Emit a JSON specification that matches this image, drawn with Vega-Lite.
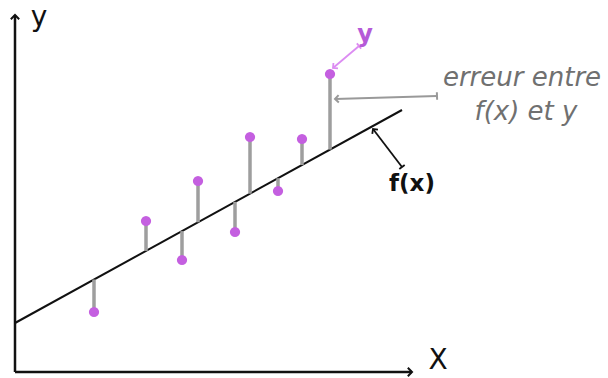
{
  "$schema": "https://vega.github.io/schema/vega-lite/v6.json",
  "width": 608,
  "height": 378,
  "autosize": {"type": "none"},
  "padding": 0,
  "background": "white",
  "config": {"view": {"stroke": null}},
  "datasets": {
    "points": [
      {"x": 7.9, "y": 6.0, "fx": 9.25},
      {"x": 13.1, "y": 15.1, "fx": 12.11},
      {"x": 16.7, "y": 11.2, "fx": 14.09},
      {"x": 18.3, "y": 19.1, "fx": 14.97},
      {"x": 22.0, "y": 14.0, "fx": 17.01},
      {"x": 23.5, "y": 23.5, "fx": 17.83},
      {"x": 26.3, "y": 18.1, "fx": 19.38},
      {"x": 28.7, "y": 23.3, "fx": 20.70},
      {"x": 31.5, "y": 29.8, "fx": 22.24}
    ],
    "segments": [
      {"name": "axisY", "x": 0, "y": 0, "x2": 0, "y2": 35.7},
      {"name": "axisX", "x": 0, "y": 0, "x2": 39.7, "y2": 0},
      {"name": "fit", "x": 0, "y": 4.9, "x2": 38.7, "y2": 26.2},
      {"name": "toY", "x": 34.4, "y": 32.6, "x2": 31.8, "y2": 30.4},
      {"name": "toErr", "x": 42.2, "y": 27.6, "x2": 32.0, "y2": 27.3},
      {"name": "toF", "x": 38.7, "y": 20.5, "x2": 35.8, "y2": 24.3}
    ],
    "labels": [
      {"name": "yAxis", "x": 2.4, "y": 34.6, "text": "y"},
      {"name": "xAxis", "x": 42.3, "y": 0.3, "text": "X"},
      {"name": "y", "x": 35.0, "y": 33.7, "text": "y"},
      {"name": "err1", "x": 50.7, "y": 29.4, "text": "erreur entre"},
      {"name": "err2", "x": 51.1, "y": 26.0, "text": "f(x) et y"},
      {"name": "f", "x": 39.7, "y": 18.8, "text": "f(x)"}
    ]
  },
  "encoding": {
    "x": {"field": "x", "type": "quantitative", "scale": {"domain": [-1.5, 59.3], "nice": false, "zero": false}, "axis": null},
    "y": {"field": "y", "type": "quantitative", "scale": {"domain": [-0.6, 37.2], "nice": false, "zero": false}, "axis": null}
  },
  "layer": [
    {
      "data": {"name": "segments"},
      "transform": [{"filter": "datum.name === 'axisX' || datum.name === 'axisY'"}],
      "mark": {"type": "rule", "color": "#111", "strokeWidth": 2.5},
      "encoding": {"x2": {"field": "x2"}, "y2": {"field": "y2"}}
    },
    {
      "data": {"name": "segments"},
      "transform": [{"filter": "datum.name === 'axisY'"}],
      "mark": {"type": "point", "shape": "M -1 -1 L 0 0 L -1 1", "filled": false, "stroke": "#111", "strokeWidth": 2, "size": 70, "angle": 270, "opacity": 1},
      "encoding": {"x": {"field": "x2", "type": "quantitative"}, "y": {"field": "y2", "type": "quantitative"}}
    },
    {
      "data": {"name": "segments"},
      "transform": [{"filter": "datum.name === 'axisX'"}],
      "mark": {"type": "point", "shape": "M -1 -1 L 0 0 L -1 1", "filled": false, "stroke": "#111", "strokeWidth": 2, "size": 70, "angle": 0, "opacity": 1},
      "encoding": {"x": {"field": "x2", "type": "quantitative"}, "y": {"field": "y2", "type": "quantitative"}}
    },
    {
      "data": {"name": "segments"},
      "transform": [{"filter": "datum.name === 'fit'"}],
      "mark": {"type": "rule", "color": "#111", "strokeWidth": 2},
      "encoding": {"x2": {"field": "x2"}, "y2": {"field": "y2"}}
    },
    {
      "data": {"name": "points"},
      "mark": {"type": "rule", "color": "#9e9e9e", "strokeWidth": 3.5},
      "encoding": {"y2": {"field": "fx"}}
    },
    {
      "data": {"name": "points"},
      "mark": {"type": "point", "shape": "circle", "filled": true, "color": "#c45fe0", "size": 105, "opacity": 1},
      "encoding": {}
    },
    {
      "data": {"name": "segments"},
      "transform": [{"filter": "datum.name === 'toY'"}],
      "layer": [
        {"mark": {"type": "rule", "color": "#dc8cf2", "strokeWidth": 1.8}, "encoding": {"x2": {"field": "x2"}, "y2": {"field": "y2"}}},
        {"mark": {"type": "point", "shape": "M -1 -1 L 0 0 L -1 1", "filled": false, "stroke": "#dc8cf2", "strokeWidth": 1.8, "size": 50, "angle": 140, "opacity": 1},
         "encoding": {"x": {"field": "x2", "type": "quantitative"}, "y": {"field": "y2", "type": "quantitative"}}},
        {"mark": {"type": "point", "shape": "M 0 -1 L 0 1", "filled": false, "stroke": "#dc8cf2", "strokeWidth": 1.8, "size": 45, "angle": 140, "opacity": 1}, "encoding": {}}
      ]
    },
    {
      "data": {"name": "segments"},
      "transform": [{"filter": "datum.name === 'toErr'"}],
      "layer": [
        {"mark": {"type": "rule", "color": "#999", "strokeWidth": 2}, "encoding": {"x2": {"field": "x2"}, "y2": {"field": "y2"}}},
        {"mark": {"type": "point", "shape": "M -1 -1 L 0 0 L -1 1", "filled": false, "stroke": "#999", "strokeWidth": 2, "size": 55, "angle": 178, "opacity": 1},
         "encoding": {"x": {"field": "x2", "type": "quantitative"}, "y": {"field": "y2", "type": "quantitative"}}},
        {"mark": {"type": "point", "shape": "M 0 -1 L 0 1", "filled": false, "stroke": "#999", "strokeWidth": 2, "size": 55, "angle": 178, "opacity": 1}, "encoding": {}}
      ]
    },
    {
      "data": {"name": "segments"},
      "transform": [{"filter": "datum.name === 'toF'"}],
      "layer": [
        {"mark": {"type": "rule", "color": "#111", "strokeWidth": 1.8}, "encoding": {"x2": {"field": "x2"}, "y2": {"field": "y2"}}},
        {"mark": {"type": "point", "shape": "M -1 -1 L 0 0 L -1 1", "filled": false, "stroke": "#111", "strokeWidth": 1.8, "size": 50, "angle": 233, "opacity": 1},
         "encoding": {"x": {"field": "x2", "type": "quantitative"}, "y": {"field": "y2", "type": "quantitative"}}},
        {"mark": {"type": "point", "shape": "M 0 -1 L 0 1", "filled": false, "stroke": "#111", "strokeWidth": 1.8, "size": 45, "angle": 233, "opacity": 1}, "encoding": {}}
      ]
    },
    {
      "data": {"name": "labels"},
      "transform": [{"filter": "datum.name === 'yAxis' || datum.name === 'xAxis'"}],
      "mark": {"type": "text", "font": "DejaVu Sans", "fontSize": 28, "color": "#111", "align": "center", "baseline": "alphabetic"},
      "encoding": {"text": {"field": "text"}}
    },
    {
      "data": {"name": "labels"},
      "transform": [{"filter": "datum.name === 'y'"}],
      "mark": {"type": "text", "font": "DejaVu Sans", "fontWeight": "bold", "fontSize": 24, "color": "#b55ad8", "align": "center", "baseline": "middle"},
      "encoding": {"text": {"field": "text"}}
    },
    {
      "data": {"name": "labels"},
      "transform": [{"filter": "datum.name === 'err1' || datum.name === 'err2'"}],
      "mark": {"type": "text", "font": "DejaVu Sans", "fontStyle": "italic", "fontSize": 26, "color": "#707070", "align": "center", "baseline": "middle"},
      "encoding": {"text": {"field": "text"}}
    },
    {
      "data": {"name": "labels"},
      "transform": [{"filter": "datum.name === 'f'"}],
      "mark": {"type": "text", "font": "DejaVu Sans", "fontWeight": "bold", "fontSize": 23, "color": "#111", "align": "center", "baseline": "middle"},
      "encoding": {"text": {"field": "text"}}
    }
  ]
}
